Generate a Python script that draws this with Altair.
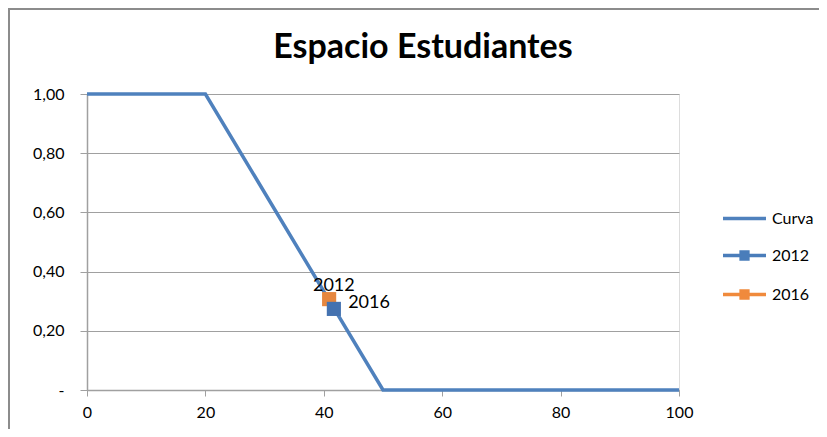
import altair as alt
import pandas as pd

# Data
curve_x = [0, 20, 50, 100]
curve_y = [1.0, 1.0, 0.0, 0.0]
point_series = ["2012", "2016"]
point_x = [41.7, 40.9]
point_y = [0.274, 0.307]
legend_series = ["Curva", "2012", "2016"]
series_colors = ["#4F81BD", "#4A7DBA", "#F08A3C"]
x_ticks = [0, 20, 40, 60, 80, 100]
y_ticks = [0, 0.2, 0.4, 0.6, 0.8, 1.0]

FONT = "Lato"
GRID = "#A0A0A0"

curve_df = pd.DataFrame({"x": curve_x, "y": curve_y, "serie": "Curva"})
pts_df = pd.DataFrame({"x": point_x, "y": point_y, "serie": point_series})
leg_df = pd.DataFrame({"x": [-50] * 3, "y": [0.5] * 3, "serie": legend_series})

xscale = alt.Scale(domain=[0, 100], nice=False, zero=False)
yscale = alt.Scale(domain=[0, 1], nice=False)

xaxis = alt.Axis(values=x_ticks, grid=False, domainColor=GRID, tickColor=GRID,
                 tickSize=6, labelPadding=8, labelFontSize=16, labelFont=FONT,
                 labelColor="#000", title=None, domainWidth=1.5, labelFlush=False)
yaxis = alt.Axis(values=y_ticks, grid=True, gridColor=GRID, gridWidth=1.2,
                 domainColor=GRID, tickColor=GRID, tickSize=7, labelPadding=16,
                 labelFontSize=16, labelFont=FONT, labelColor="#000", title=None,
                 domainWidth=1.5, labelFlush=False,
                 labelExpr="datum.value == 0 ? '-\u00a0\u00a0\u00a0' : replace(format(datum.value, '.2f'), '.', ',')")

base_x = alt.X("x:Q", scale=xscale, axis=xaxis)
base_y = alt.Y("y:Q", scale=yscale, axis=yaxis)

curve = alt.Chart(curve_df).mark_line(color=series_colors[0], strokeWidth=3.5).encode(
    x=base_x, y=base_y
)

pt2012 = alt.Chart(pts_df).transform_filter(alt.datum.serie == "2012").mark_square(
    size=200, color="#4472B0", opacity=1
).encode(x="x:Q", y="y:Q")
pt2016 = alt.Chart(pts_df).transform_filter(alt.datum.serie == "2016").mark_square(
    size=200, color="#E6873F", opacity=1
).encode(x="x:Q", y="y:Q")

lbl2012 = alt.Chart(pts_df).transform_filter(alt.datum.serie == "2012").mark_text(
    font=FONT, fontSize=18, color="#000", align="center", baseline="alphabetic", dy=-18
).encode(x="x:Q", y="y:Q", text="serie:N")
lbl2016 = alt.Chart(pts_df).transform_filter(alt.datum.serie == "2016").mark_text(
    font=FONT, fontSize=18, color="#000", align="left", baseline="middle", dx=19, dy=4
).encode(x="x:Q", y="y:Q", text="serie:N")

line_path = "M-1.4,0H1.4"
sq_path = "M-1.4,0H1.4M-0.22,-0.22H0.22V0.22H-0.22Z"
legend_scale_color = alt.Scale(domain=legend_series, range=series_colors)


def mk_legend():
    return alt.Legend(
        title=None, orient="none", legendX=640, legendY=107, symbolSize=943,
        labelFont=FONT, labelFontSize=16, labelColor="#000", labelOffset=10,
        rowPadding=11, padding=0, symbolStrokeWidth=3.5, symbolOpacity=1)


legend_layer = alt.Chart(leg_df).mark_point(filled=True, clip=True, strokeWidth=3.5).encode(
    x="x:Q", y="y:Q",
    fill=alt.Fill("serie:N", scale=legend_scale_color, legend=mk_legend()),
    stroke=alt.Stroke("serie:N", scale=legend_scale_color, legend=mk_legend()),
    shape=alt.Shape("serie:N", scale=alt.Scale(domain=legend_series,
                                               range=[line_path, sq_path, sq_path]),
                    legend=mk_legend()),
)

border_top = alt.Chart(curve_df).mark_rule(color="#8C8C8C", strokeWidth=2, clip=False).encode(
    x=alt.value(-78), x2=alt.value(740), y=alt.value(-85)
)
border_left = alt.Chart(curve_df).mark_rule(color="#8C8C8C", strokeWidth=2, clip=False).encode(
    x=alt.value(-78), y=alt.value(-86), y2=alt.value(335)
)

chart = alt.layer(
    border_top, border_left, curve, pt2016, pt2012, lbl2012, lbl2016, legend_layer
).properties(
    width=592, height=296,
    autosize=alt.AutoSizeParams(type="none"),
    padding={"left": 79, "top": 86, "right": 140, "bottom": 39},
    title=alt.TitleParams("Espacio Estudiantes", font=FONT, fontSize=34, fontWeight="bold",
                          color="#000", anchor="middle", dx=40, dy=121, offset=36,
                          baseline="alphabetic"),
).configure_view(stroke=None).configure(background="white")

chart.save("out.html", embed_options={"renderer": "svg", "actions": False})
